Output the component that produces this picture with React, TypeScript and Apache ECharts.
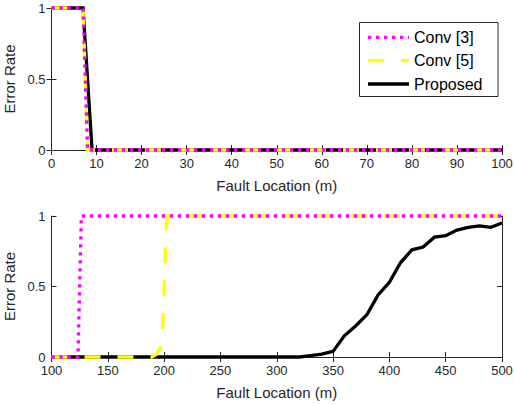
import React, { useEffect, useRef } from "react";
import * as echarts from "echarts";

// ---- Data ----
// Top panel: fault location 0..100 m (break points only; lines are flat elsewhere)
const topConv3: [number, number][] = [[0, 1], [7, 1], [8, 0], [100, 0]];
const topConv5: [number, number][] = [[0, 1], [7, 1], [8, 0], [100, 0]];
const topProposed: [number, number][] = [[0, 1], [7, 1], [8, 0.5], [9, 0], [100, 0]];

// Bottom panel: fault location 100..500 m
const botConv3: [number, number][] = [[100, 0], [123.5, 0], [126.5, 1], [500, 1]];
const botConv5: [number, number][] = [
  [100, 0], [189, 0], [193, 0.02], [197, 0.07], [199, 0.25], [200.5, 0.6], [201.5, 0.9], [203, 1], [500, 1],
];
const botProposedX: number[] = [
  100, 110, 120, 130, 140, 150, 160, 170, 180, 190, 200, 210, 220, 230, 240, 250, 260, 270, 280, 290,
  300, 310, 320, 330, 340, 350, 360, 370, 380, 390, 400, 410, 420, 430, 440, 450, 460, 470, 480, 490, 500,
];
const botProposedY: number[] = [
  0, 0, 0, 0, 0, 0, 0, 0, 0, 0, 0, 0, 0, 0, 0, 0, 0, 0, 0, 0,
  0, 0, 0, 0.01, 0.02, 0.04, 0.15, 0.22, 0.3, 0.44, 0.53, 0.67, 0.76, 0.78, 0.85, 0.86, 0.9, 0.92, 0.93, 0.92, 0.95,
];

const seriesNames = ["Conv [3]", "Conv [5]", "Proposed"];
const seriesColors = ["#FF00FF", "#FFFF00", "#000000"];
const yTicks = { min: 0, max: 1, interval: 0.5 };
const topX = { min: 0, max: 100, interval: 10 };
const botX = { min: 100, max: 500, interval: 50 };

const FONT = "'Liberation Sans', Arial, Helvetica, sans-serif";
const AX = "#262626";
const LW = 3.3;
const DOTTED = [3.3, 4.7];
const DASHED = [16, 17];
const seriesDash: any[] = [DOTTED, DASHED, null];

export default function App() {
  const ref = useRef<HTMLDivElement>(null);
  useEffect(() => {
    if (!ref.current) return;
    const chart = echarts.init(ref.current, undefined, { renderer: "svg" });

    const tick = { show: true, inside: true, length: 5, lineStyle: { color: AX, width: 1 } };
    const axLine = { show: true, lineStyle: { color: AX, width: 1 } };
    const label = { color: AX, fontSize: 13, fontFamily: FONT };

    const xMain = (grid: number, r: { min: number; max: number; interval: number }) => ({
      type: "value", gridIndex: grid, position: "bottom", ...r,
      axisLine: axLine, axisTick: tick, splitLine: { show: false },
      axisLabel: { ...label, margin: 7 },
      name: "Fault Location (m)", nameLocation: "middle", nameGap: 28,
      nameTextStyle: { color: AX, fontSize: 15, fontFamily: FONT },
    });
    const xTop = (grid: number, r: { min: number; max: number; interval: number }) => ({
      type: "value", gridIndex: grid, position: "top", ...r,
      axisLine: axLine, axisTick: tick, splitLine: { show: false }, axisLabel: { show: false },
    });
    const yMain = (grid: number) => ({
      type: "value", gridIndex: grid, position: "left", ...yTicks,
      axisLine: axLine, axisTick: tick, splitLine: { show: false },
      axisLabel: { ...label, margin: 6 },
      name: "Error Rate", nameLocation: "middle", nameGap: 28,
      nameTextStyle: { color: AX, fontSize: 15, fontFamily: FONT },
    });
    const yRight = (grid: number) => ({
      type: "value", gridIndex: grid, position: "right", ...yTicks,
      axisLine: axLine, axisTick: tick, splitLine: { show: false }, axisLabel: { show: false },
    });

    const mk = (name: string, data: [number, number][], xi: number, yi: number, color: string, type: any, z: number) => ({
      name, type: "line", data, xAxisIndex: xi, yAxisIndex: yi,
      symbol: "none", showSymbol: false, z, clip: false,
      lineStyle: { color, width: LW, type, cap: "butt", join: "miter" },
      itemStyle: { color },
    });

    const botProposed: [number, number][] = botProposedX.map((x, i) => [x, botProposedY[i]]);

    // legend box drawn as graphic (line samples with dash patterns)
    const lgX = 359.5, lgY = 22.5, lgW = 138.5, lgH = 74;
    const rowY = [37.3, 60.7, 84];
    const legendEls: any[] = [
      {
        type: "rect", shape: { x: lgX, y: lgY, width: lgW, height: lgH },
        style: { fill: "#ffffff", stroke: AX, lineWidth: 1 }, z: 100,
      },
    ];
    seriesNames.forEach((n, i) => {
      legendEls.push({
        type: "line", shape: { x1: 368, y1: rowY[i], x2: 409, y2: rowY[i] },
        style: { stroke: seriesColors[i], lineWidth: LW, lineDash: seriesDash[i] || null, lineCap: "butt" }, z: 101,
      });
      legendEls.push({
        type: "text", x: 414, y: rowY[i],
        style: { text: n, fill: "#000000", font: `16px ${FONT}`, textVerticalAlign: "middle", verticalAlign: "middle", align: "left" },
        z: 101,
      });
    });

    chart.setOption({
      animation: false,
      backgroundColor: "#ffffff",
      grid: [
        { left: 51.5, right: 12, top: 8, height: 142, containLabel: false, outerBoundsMode: "none" },
        { left: 51.5, right: 12, top: 216, height: 141, containLabel: false, outerBoundsMode: "none" },
      ],
      xAxis: [xMain(0, topX), xTop(0, topX), xMain(1, botX), xTop(1, botX)],
      yAxis: [yMain(0), yRight(0), yMain(1), yRight(1)],
      graphic: legendEls,
      series: [
        mk("Proposed", topProposed, 0, 0, seriesColors[2], "solid", 2),
        mk("Conv [5]", topConv5, 0, 0, seriesColors[1], DASHED, 3),
        mk("Conv [3]", topConv3, 0, 0, seriesColors[0], DOTTED, 4),
        mk("Proposed", botProposed, 2, 2, seriesColors[2], "solid", 2),
        mk("Conv [5]", botConv5, 2, 2, seriesColors[1], DASHED, 3),
        mk("Conv [3]", botConv3, 2, 2, seriesColors[0], DOTTED, 4),
      ],
    });
    return () => chart.dispose();
  }, []);
  return (
    <div
      ref={ref}
      style={{ position: "fixed", left: 0, top: 0, width: 514, height: 405, background: "#fff" }}
    />
  );
}
